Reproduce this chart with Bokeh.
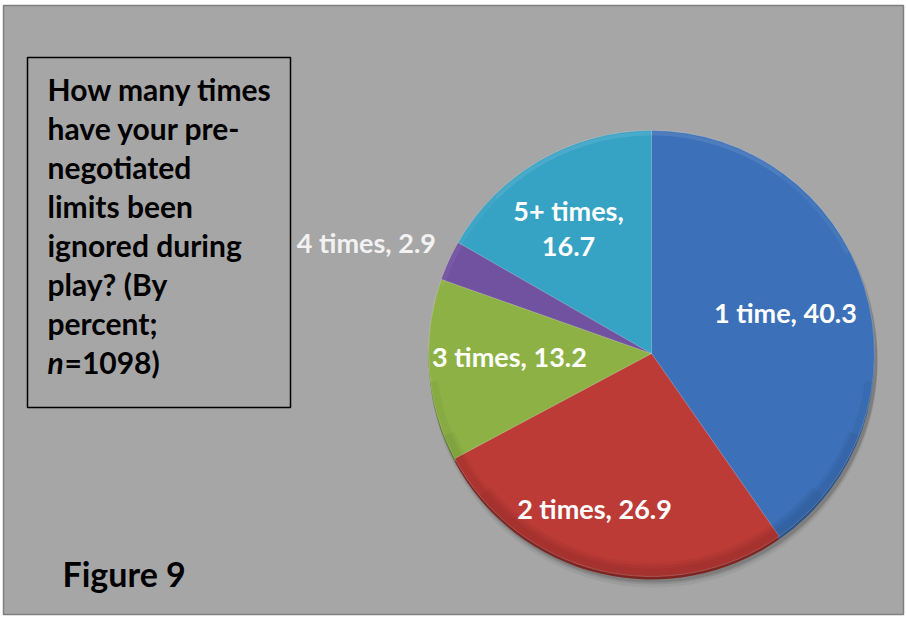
import math
from bokeh.plotting import figure
from bokeh.models import Range1d, ColumnDataSource
from bokeh.core.properties import value
from bokeh.embed import file_html
from bokeh.resources import INLINE

# Survey answers (percent of respondents, n=1098)
categories = ["1 time", "2 times", "3 times", "4 times", "5+ times"]
percents = [40.3, 26.9, 13.2, 2.9, 16.7]
colors = ["#3C70B8", "#BC3B37", "#8DB145", "#7152A0", "#36A2C4"]
edge_colors = ["#2A5288", "#7E2522", "#5E7A2E", "#4C3570", "#23718E"]

title_lines = ["How many times", "have your pre-", "negotiated", "limits been",
               "ignored during", "play? (By", "percent;"]
figure_label = "Figure 9"

W, H = 906, 618
FONT = "Lato"

p = figure(width=W, height=H, x_range=Range1d(0, W), y_range=Range1d(0, H),
           output_backend="svg", toolbar_location=None, min_border=0)
p.axis.visible = False
p.grid.visible = False
p.outline_line_color = None
p.background_fill_color = "white"
p.border_fill_color = "white"


def sy(y):
    # screen-style y (top = 0) to data y
    return H - y

# chart area
p.quad(left=3, right=903, top=sy(5), bottom=sy(614), fill_color="#A6A6A6",
       line_color="#7F7F7F", line_width=1.5)

# pie geometry
cx, cy, r = 651, sy(353), 223
total = sum(percents)
starts, ends, mids = [], [], []
acc = 0.0
for v in percents:
    a0 = math.pi / 2 - 2 * math.pi * acc / total
    acc += v
    a1 = math.pi / 2 - 2 * math.pi * acc / total
    starts.append(a0)
    ends.append(a1)
    mids.append((a0 + a1) / 2)

src = ColumnDataSource(dict(start=starts, end=ends, color=colors, edge=edge_colors))

# soft drop shadow
for off, alpha in [(10, 0.05), (7, 0.08), (5, 0.12)]:
    p.circle(x=cx + 2, y=cy - off, radius=r + 1, radius_units="screen",
             fill_color="black", fill_alpha=alpha, line_color=None)

# bevel rim (darker copy slightly offset down)
p.wedge(x=cx, y=cy - 3, radius=r, radius_units="screen", start_angle="start",
        end_angle="end", direction="clock", fill_color="edge", line_color=None,
        source=src)
# main slices
p.wedge(x=cx, y=cy, radius=r, radius_units="screen", start_angle="start",
        end_angle="end", direction="clock", fill_color="color",
        line_color="white", line_alpha=0.2, line_width=1, source=src)

# shading toward the lower edge (layered so it fades out at the ends)
for k, (a0, a1) in enumerate([(1.04, 1.96), (1.12, 1.88), (1.22, 1.78)]):
    p.annular_wedge(x=cx, y=cy, inner_radius=r - 8 - 3 * k, outer_radius=r,
                    inner_radius_units="screen", outer_radius_units="screen",
                    start_angle=math.pi * a0, end_angle=math.pi * a1, direction="anticlock",
                    fill_color="black", fill_alpha=0.04, line_color=None)
# faint highlight toward the upper edge
for k, (a0, a1) in enumerate([(0.15, 0.9), (0.3, 0.75)]):
    p.annular_wedge(x=cx, y=cy, inner_radius=r - 5, outer_radius=r - 1,
                    inner_radius_units="screen", outer_radius_units="screen",
                    start_angle=math.pi * a0, end_angle=math.pi * a1, direction="anticlock",
                    fill_color="white", fill_alpha=0.05, line_color=None)

# slice labels, placed along each slice's mid angle
label_radius = [0.628, 0.74, 0.637, 1.372, 0.673]
label_shift = [-0.008, -0.117, -0.054, 0.059, 0.061]
lx, ly, txt, tcol = [], [], [], []
for i, (c, v) in enumerate(zip(categories, percents)):
    a = mids[i] + label_shift[i]
    x = cx + r * label_radius[i] * math.cos(a)
    y = cy + r * label_radius[i] * math.sin(a)
    if c == "5+ times":
        lx += [x, x]
        ly += [y + 18, y - 18]
        txt += [c + ",", f"{v}"]
        tcol += ["white", "white"]
    else:
        lx.append(x)
        ly.append(y)
        txt.append(f"{c}, {v}")
        tcol.append("#F2F2F2" if v < 5 else "white")

p.text(x=lx, y=ly, text=txt, text_color=tcol, text_font=value(FONT),
       text_font_style="bold", text_font_size="27px", text_align="center",
       text_baseline="middle")

# question box
p.quad(left=27, right=290, top=sy(57), bottom=sy(407), fill_color=None,
       line_color="black", line_width=1.5)
line_y = [sy(88 + 39 * i) for i in range(len(title_lines))]
p.text(x=[47] * len(title_lines), y=line_y, text=title_lines, text_color="black",
       text_font=value(FONT), text_font_style="bold", text_font_size="30px",
       text_baseline="middle")
ny = sy(88 + 39 * len(title_lines))
p.text(x=[47], y=[ny], text=["n"], text_color="black", text_font=value(FONT),
       text_font_style="bold italic", text_font_size="30px", text_baseline="middle")
p.text(x=[64], y=[ny], text=["=1098)"], text_color="black", text_font=value(FONT),
       text_font_style="bold", text_font_size="30px", text_baseline="middle")

p.text(x=[62], y=[sy(573)], text=[figure_label], text_color="black",
       text_font=value(FONT), text_font_style="bold", text_font_size="34px",
       text_baseline="middle")

open("out.html", "w").write(file_html(p, INLINE))
